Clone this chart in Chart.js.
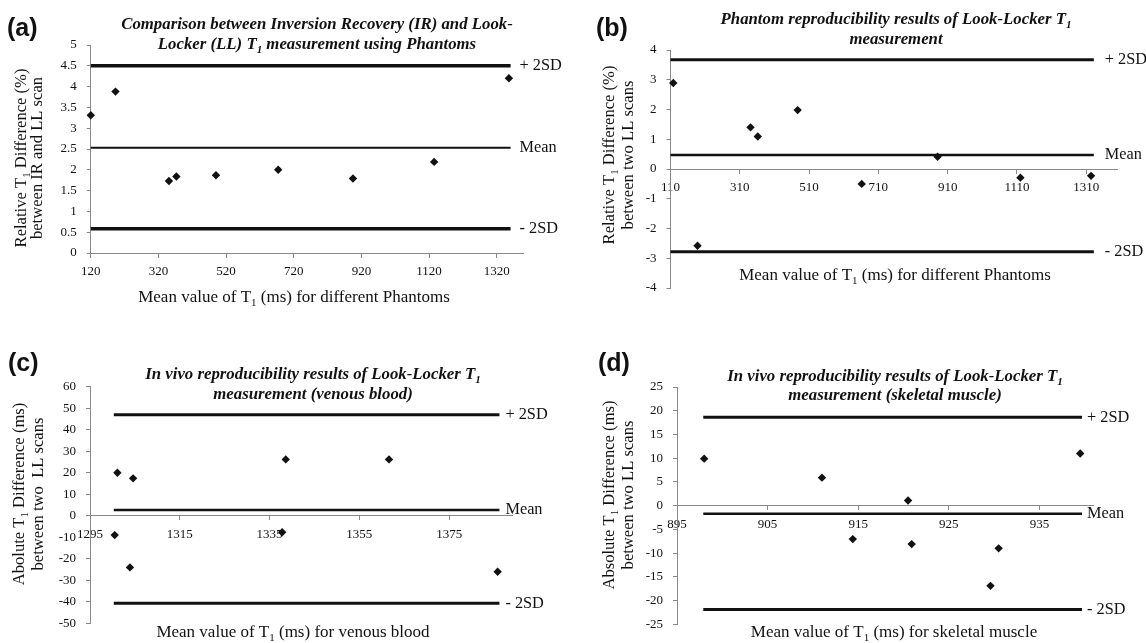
<!DOCTYPE html>
<html>
<head>
<meta charset="utf-8">
<script src="https://cdn.jsdelivr.net/npm/chart.js@4.4.1/dist/chart.umd.min.js"></script>
<style>
  html, body { margin: 0; padding: 0; background: #fff; }
  #wrap { position: relative; width: 1146px; height: 643px; }
  #wrap canvas { position: absolute; left: 0; top: 0; }
</style>
</head>
<body>
<div id="wrap">
  <canvas id="ca" width="1146" height="643"></canvas>
  <canvas id="cb" width="1146" height="643"></canvas>
  <canvas id="cc" width="1146" height="643"></canvas>
  <canvas id="cd" width="1146" height="643"></canvas>
</div>
<script>
// (a) IR vs LL, phantoms
var xA = [120, 193, 351, 373, 490, 674, 895, 1135, 1356];
var yA = [3.31, 3.88, 1.73, 1.84, 1.87, 2.0, 1.79, 2.19, 4.2];
var limitsA = [4.5, 2.53, 0.58];      // +2SD, mean, -2SD
var spanA = [120, 1361];
var xTicksA = [120, 320, 520, 720, 920, 1120, 1320];
var yTicksA = [0, 0.5, 1, 1.5, 2, 2.5, 3, 3.5, 4, 4.5, 5];

// (b) phantom reproducibility
var xB = [118, 188, 341, 362, 477, 662, 881, 1120, 1324];
var yB = [2.89, -2.58, 1.4, 1.09, 1.98, -0.5, 0.41, -0.29, -0.23];
var limitsB = [3.67, 0.47, -2.78];
var spanB = [110, 1332];
var xTicksB = [110, 310, 510, 710, 910, 1110, 1310];
var yTicksB = [-4, -3, -2, -1, 0, 1, 2, 3, 4];

// (c) in vivo, venous blood
var xC = [1300.5, 1301.1, 1303.9, 1304.6, 1337.8, 1338.6, 1361.6, 1385.8];
var yC = [-9, 20, -24, 17.4, -7.7, 26.2, 26.2, -26];
var limitsC = [47, 2.7, -40.7];
var spanC = [1300.3, 1386.2];
var xTicksC = [1295, 1315, 1335, 1355, 1375];
var yTicksC = [-50, -40, -30, -20, -10, 0, 10, 20, 30, 40, 50, 60];

// (d) in vivo, skeletal muscle
var xD = [898, 911, 914.4, 920.5, 920.9, 929.6, 930.5, 939.5];
var yD = [9.9, 5.9, -7.05, 1.1, -8.1, -16.9, -9, 11];
var limitsD = [18.6, -1.69, -21.9];
var spanD = [897.9, 939.7];
var xTicksD = [895, 905, 915, 925, 935];
var yTicksD = [-25, -20, -15, -10, -5, 0, 5, 10, 15, 20, 25];

var sdLabels = ['+ 2SD', 'Mean', '- 2SD'];

var SERIF = '"Liberation Serif", "Times New Roman", serif';
var SANS = '"Liberation Sans", Arial, sans-serif';
var INK = '#111';

// "T{1}" -> T with subscript 1
function parseRich(s) {
  return s.split(/(\{[^}]*\})/).filter(function (p) { return p; }).map(function (p) {
    return p[0] == '{' ? { t: p.slice(1, -1), sub: true } : { t: p, sub: false };
  });
}

function drawRich(ctx, s, x, y, size, style, family, align) {
  var parts = parseRich(s);
  var font = function (sub) { return style + ' ' + (sub ? Math.round(size * 0.65) : size) + 'px ' + family; };
  var w = 0;
  parts.forEach(function (p) { ctx.font = font(p.sub); p.w = ctx.measureText(p.t).width; w += p.w; });
  var cx = align == 'center' ? x - w / 2 : (align == 'right' ? x - w : x);
  ctx.textAlign = 'left';
  ctx.textBaseline = 'middle';
  parts.forEach(function (p) {
    ctx.font = font(p.sub);
    ctx.fillText(p.t, cx, p.sub ? y + size * 0.3 : y);
    cx += p.w;
  });
}

var panelText = {
  id: 'panelText',
  afterDatasetsDraw: function (chart, args, o) {
    var ctx = chart.ctx;
    var xs = chart.scales.x, ys = chart.scales.y;
    ctx.save();
    ctx.fillStyle = INK;
    // panel letter
    ctx.font = 'bold 25px ' + SANS;
    ctx.textAlign = 'left';
    ctx.textBaseline = 'middle';
    ctx.fillText(o.letter, o.letterPos[0], o.letterPos[1]);
    // title
    o.title.forEach(function (line, i) {
      drawRich(ctx, line, o.titleX, o.titleY[i], 16.8, 'italic bold', SERIF, 'center');
    });
    // x title
    drawRich(ctx, o.xTitle, o.xTitlePos[0], o.xTitlePos[1], 17, 'normal', SERIF, 'center');
    // y title, rotated
    o.yTitle.forEach(function (line, i) {
      ctx.save();
      ctx.translate(o.yTitleX[i], o.yTitleY);
      ctx.rotate(-Math.PI / 2);
      drawRich(ctx, line, 0, 0, 16.6, 'normal', SERIF, 'center');
      ctx.restore();
    });
    // limit labels at the end of each line
    var xEnd = xs.getPixelForValue(o.span[1]) + o.gap;
    o.limits.forEach(function (v, i) {
      drawRich(ctx, sdLabels[i], xEnd, ys.getPixelForValue(v), 16.3, 'normal', SERIF, 'left');
    });
    ctx.restore();
  }
};

function limitLine(v, span, w) {
  return {
    data: [{ x: span[0], y: v }, { x: span[1], y: v }],
    showLine: true, borderColor: INK, borderWidth: w,
    pointRadius: 0, order: 2, clip: false
  };
}

function makePanel(id, p) {
  var pts = p.xs.map(function (x, i) { return { x: x, y: p.ys[i] }; });
  var tickFont = { family: SERIF, size: 13 };
  return new Chart(document.getElementById(id), {
    type: 'scatter',
    data: {
      datasets: [
        { data: pts, pointStyle: 'rectRot', pointRadius: 4.2, backgroundColor: INK, borderWidth: 0, order: 1, clip: false },
        limitLine(p.limits[0], p.span, p.wide),
        limitLine(p.limits[1], p.span, p.thin),
        limitLine(p.limits[2], p.span, p.wide)
      ]
    },
    options: {
      responsive: false,
      animation: false,
      events: [],
      layout: { padding: p.pad },
      plugins: {
        legend: { display: false },
        tooltip: { enabled: false },
        panelText: {
          letter: p.letter, letterPos: p.letterPos,
          title: p.title, titleX: p.titleX, titleY: p.titleY,
          xTitle: p.xTitle, xTitlePos: p.xTitlePos,
          yTitle: p.yTitle, yTitleX: p.yTitleX, yTitleY: p.yTitleY,
          limits: p.limits, span: p.span, gap: p.gap
        }
      },
      scales: {
        x: {
          type: 'linear', axis: 'x', position: { y: 0 },
          min: p.xMin, max: p.xMax,
          afterBuildTicks: function (s) { s.ticks = p.xTicks.map(function (v) { return { value: v }; }); },
          grid: { drawOnChartArea: false, drawTicks: true, tickLength: 4, color: '#888' },
          border: { display: true, color: '#888', width: 1 },
          ticks: { font: tickFont, color: INK, padding: 7, maxRotation: 0, autoSkip: false,
                   callback: function (v) { return String(v); } }
        },
        y: {
          type: 'linear', position: 'left',
          min: p.yTicks[0], max: p.yTicks[p.yTicks.length - 1],
          afterBuildTicks: function (s) { s.ticks = p.yTicks.map(function (v) { return { value: v }; }); },
          afterFit: function (s) { s.width = 50; },
          grid: { drawOnChartArea: false, drawTicks: true, tickLength: 4, color: '#888' },
          border: { display: true, color: '#888', width: 1 },
          ticks: { font: tickFont, color: INK, padding: 10,
                   callback: function (v) { return String(v); } }
        }
      }
    },
    plugins: [panelText]
  });
}

makePanel('ca', {
  xs: xA, ys: yA, limits: limitsA, span: spanA, xTicks: xTicksA, yTicks: yTicksA,
  xMin: 120, xMax: 1400, wide: 3.5, thin: 2, gap: 9,
  pad: { left: 40.8, top: 45, right: 622.2, bottom: 390 },
  letter: '(a)', letterPos: [7, 29],
  title: ['Comparison between Inversion Recovery (IR) and Look-', 'Locker (LL) T{1} measurement using Phantoms'],
  titleX: 317, titleY: [25, 45],
  xTitle: 'Mean value of T{1} (ms) for different Phantoms', xTitlePos: [294, 298],
  yTitle: ['Relative T{1} Difference (%)', 'between IR and LL scan'], yTitleX: [22, 38], yTitleY: 158
});

makePanel('cb', {
  xs: xB, ys: yB, limits: limitsB, span: spanB, xTicks: xTicksB, yTicks: yTicksB,
  xMin: 110, xMax: 1400, wide: 3, thin: 2.5, gap: 11,
  pad: { left: 620.5, top: 50, right: 28.6, bottom: 355 },
  letter: '(b)', letterPos: [596, 29],
  title: ['Phantom reproducibility results of Look-Locker T{1}', 'measurement'],
  titleX: 896, titleY: [20, 40],
  xTitle: 'Mean value of T{1} (ms) for different Phantoms', xTitlePos: [895, 276],
  yTitle: ['Relative T{1} Difference (%)', 'between two LL scans'], yTitleX: [610, 629], yTitleY: 155
});

makePanel('cc', {
  xs: xC, ys: yC, limits: limitsC, span: spanC, xTicks: xTicksC, yTicks: yTicksC,
  xMin: 1295, xMax: 1389, wide: 3, thin: 2.5, gap: 6,
  pad: { left: 40, top: 386.7, right: 634, bottom: 19.7 },
  letter: '(c)', letterPos: [8, 364],
  title: ['In vivo reproducibility results of Look-Locker T{1}', 'measurement (venous blood)'],
  titleX: 313, titleY: [375, 395],
  xTitle: 'Mean value of T{1} (ms) for venous blood', xTitlePos: [293, 633],
  yTitle: ['Abolute T{1} Difference (ms)', 'between two  LL scans'], yTitleX: [20, 39], yTitleY: 494
});

makePanel('cd', {
  xs: xD, ys: yD, limits: limitsD, span: spanD, xTicks: xTicksD, yTicks: yTicksD,
  xMin: 895, xMax: 941, wide: 3, thin: 2.5, gap: 5,
  pad: { left: 627, top: 387, right: 52.2, bottom: 18.7 },
  letter: '(d)', letterPos: [598, 364],
  title: ['In vivo reproducibility results of Look-Locker T{1}', 'measurement (skeletal muscle)'],
  titleX: 895, titleY: [377, 396],
  xTitle: 'Mean value of T{1} (ms) for skeletal muscle', xTitlePos: [894, 633],
  yTitle: ['Absolute T{1} Difference (ms)', 'between two LL scans'], yTitleX: [610, 629], yTitleY: 495
});
</script>
</body>
</html>
